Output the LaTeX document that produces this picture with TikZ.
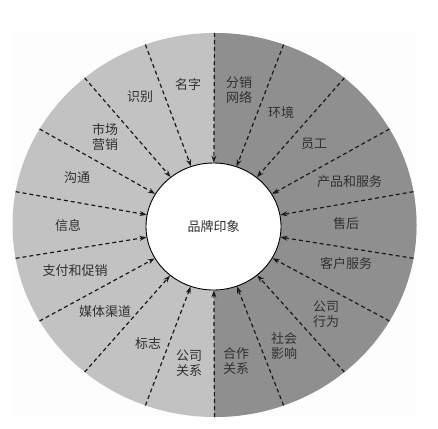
\documentclass[tikz,border=0pt]{standalone}
\usepackage{fontspec}
\setmainfont{Noto Sans CJK SC}
\usetikzlibrary{arrows.meta,shapes.geometric}
\definecolor{lightgr}{HTML}{C2C2C2}
\definecolor{darkgr}{HTML}{8F8F8F}
\definecolor{txt}{HTML}{303030}
\begin{document}
\begin{tikzpicture}[x=1pt,y=-1pt,
  lab/.style={text=txt,font=\fontsize{13}{14.5}\selectfont,align=center,inner sep=0pt},
  ray/.style={draw=black!90,line width=1.2pt,dash pattern=on 4pt off 3pt,-{Stealth[length=7pt,width=5pt]}},
  core/.style={ellipse,draw=black,line width=0.9pt,fill=white,minimum width=135pt,minimum height=127pt,inner sep=0pt,text=txt,font=\fontsize{13}{14.5}\selectfont}]
\useasboundingbox (0,0) rectangle (438,428);
\fill[black!0.8] (12,33) rectangle (417,417);
\fill[lightgr] (214.5,225) ellipse [x radius=202,y radius=192];
\begin{scope}
  \clip (214,0) rectangle (438,428);
  \fill[darkgr] (214.5,225) ellipse [x radius=202,y radius=192];
\end{scope}
\node[core] (brand) at (213.5,226.5) {品牌印象};
\foreach \k in {0,...,17}{
  \pgfmathsetmacro\ang{90+20*\k}
  \coordinate (o\k) at ({214.5+202*cos(\ang)},{225-192*sin(\ang)});
  \draw[ray] (o\k) -- (brand);
}
% left half
\node[lab] (l1) at (188,85) {名字};
\node[lab] (l2) at (140,97) {识别};
\node[lab] (l3) at (105,137) {市场\\营销};
\node[lab] (l4) at (77,178) {沟通};
\node[lab] (l5) at (68,226) {信息};
\node[lab] (l6) at (75,271) {支付和促销};
\node[lab] (l7) at (105,312) {媒体渠道};
\node[lab] (l8) at (148,344) {标志};
\node[lab] (l9) at (189,363) {公司\\关系};
% right half
\node[lab] (r1) at (239,90) {分销\\网络};
\node[lab] (r2) at (281,113) {环境};
\node[lab] (r3) at (314,144) {员工};
\node[lab] (r4) at (349.5,182) {产品和服务};
\node[lab] (r5) at (346,224) {售后};
\node[lab] (r6) at (346,264) {客户服务};
\node[lab] (r7) at (326,314) {公司\\行为};
\node[lab] (r8) at (284,346) {社会\\影响};
\node[lab] (r9) at (236,361) {合作\\关系};
\end{tikzpicture}
\end{document}
